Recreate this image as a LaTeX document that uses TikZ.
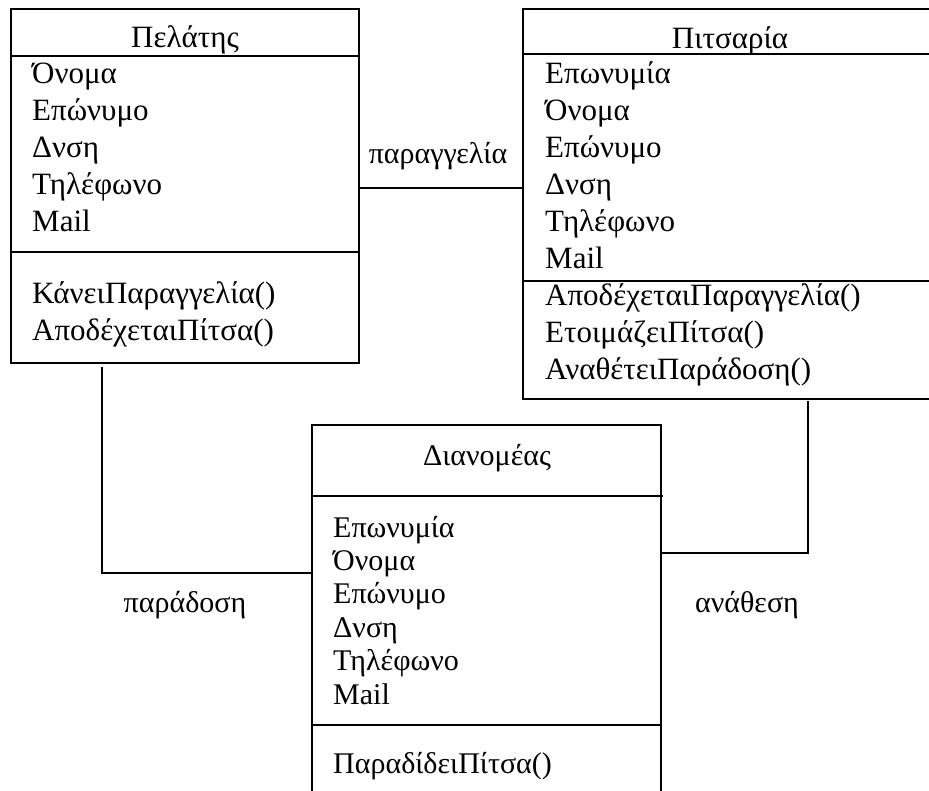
\documentclass[tikz,border=0pt]{standalone}
\usepackage{fontspec}
\setmainfont{Liberation Serif}
\usetikzlibrary{positioning}

\tikzset{
  classbox/.style={draw, line width=1.5pt, inner sep=0pt, outer sep=0pt, anchor=north west},
  sepline/.style={line width=1.5pt},
  link/.style={line width=1.5pt},
  item/.style={anchor=base west, inner sep=0pt, font=\fontsize{31}{37}\selectfont},
  small item/.style={anchor=base west, inner sep=0pt, font=\fontsize{30}{34}\selectfont},
  title/.style={anchor=base, inner sep=0pt, font=\fontsize{31}{37}\selectfont},
  linklabel/.style={anchor=base, inner sep=0pt, font=\fontsize{30}{34}\selectfont}
}

\begin{document}
\begin{tikzpicture}[x=1pt,y=-1pt]
\clip (0,0) rectangle (929,790);

% boxes
\node[classbox, minimum width=348pt, minimum height=354pt] (pelatis) at (11,9) {};
\node[classbox, minimum width=430pt, minimum height=390pt] (pitsaria) at (523,9) {};
\node[classbox, minimum width=349pt, minimum height=400pt] (dianomeas) at (312,425) {};

\draw[sepline] (pelatis.west |- 0,56) -- (pelatis.east |- 0,56);
\draw[sepline] (pelatis.west |- 0,252) -- (pelatis.east |- 0,252);
\draw[sepline] (pitsaria.west |- 0,54) -- (pitsaria.east |- 0,54);
\draw[sepline] (pitsaria.west |- 0,281) -- (pitsaria.east |- 0,281);
\draw[sepline] (dianomeas.west |- 0,496) -- (663,496);
\draw[sepline] (dianomeas.west |- 0,725) -- (dianomeas.east |- 0,725);

% titles
\node[title] (pelatistitle) at (185,47) {Πελάτης};
\node[title] (pitsariatitle) at (730,48) {Πιτσαρία};
\node[title, font=\fontsize{30}{34}\selectfont] (dianomeastitle) at (487,465) {Διανομέας};

% attributes and methods
\foreach \t [count=\i] in {Όνομα, Επώνυμο, Δνση, Τηλέφωνο, Mail}
   \node[item] (pelattr\i) at (32,{83+37*(\i-1)}) {\t};
\foreach \t [count=\i] in {ΚάνειΠαραγγελία(), ΑποδέχεταιΠίτσα()}
   \node[item] (pelmeth\i) at (32,{303+37*(\i-1)}) {\t};

\foreach \t [count=\i] in {Επωνυμία, Όνομα, Επώνυμο, Δνση, Τηλέφωνο, Mail,
      ΑποδέχεταιΠαραγγελία(), ΕτοιμάζειΠίτσα(), ΑναθέτειΠαράδοση()}
   \node[item] (pitline\i) at (545,{83+37*(\i-1)}) {\t};

\foreach \t [count=\i] in {Επωνυμία, Όνομα, Επώνυμο, Δνση, Τηλέφωνο, Mail}
   \node[small item] (dianattr\i) at (333,{537+33.4*(\i-1)}) {\t};
\node[small item] (dianmeth1) at (333,773) {ΠαραδίδειΠίτσα()};

% associations
\draw[link] ([yshift=-2pt]pelatis.east) -- ([yshift=-2pt]pelatis.east -| pitsaria.west);
\draw[link] ([xshift=91pt,yshift=-4pt]pelatis.south west) |- ([yshift=-148pt]dianomeas.north west);
\draw[link] ([xshift=285pt,yshift=-2pt]pitsaria.south west) |- ([yshift=-128pt]dianomeas.north east);

\node[linklabel] (paraggelia) at (438,163) {παραγγελία};
\node[linklabel] (paradosi) at (185,612) {παράδοση};
\node[linklabel] (anathesi) at (747,612) {ανάθεση};

\end{tikzpicture}
\end{document}
